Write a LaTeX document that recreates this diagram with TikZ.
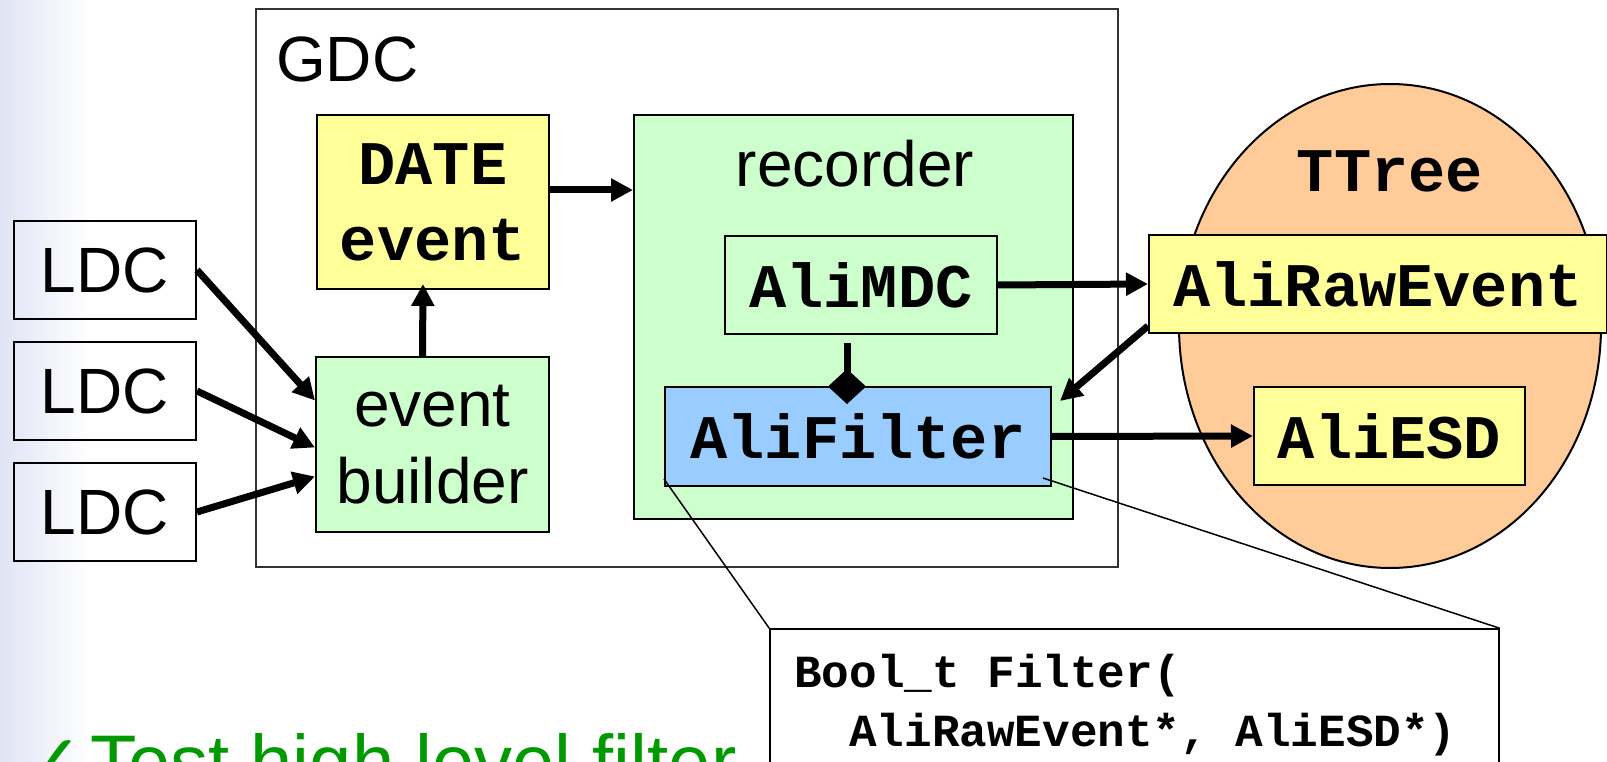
\documentclass[tikz,border=0pt]{standalone}
\usepackage{fontspec}
\setmainfont{Liberation Sans}
\setmonofont{Liberation Mono}
\newfontfamily\symfont{DejaVu Sans}
\usepackage{tikz}
\usetikzlibrary{arrows.meta, positioning, calc, shapes.geometric}

\definecolor{dateyellow}{HTML}{FFFF99}
\definecolor{recgreen}{HTML}{CCFFCC}
\definecolor{filtblue}{HTML}{99CCFF}
\definecolor{treeorange}{HTML}{FFCC99}
\definecolor{checkgreen}{HTML}{009900}
\definecolor{slideedge}{RGB}{224,228,244}

\begin{document}
\begin{tikzpicture}[
  x=1pt, y=-1pt,
  >={Triangle[length=22pt,width=22pt]},
  box/.style={
    draw, line width=2pt, inner sep=0pt, minimum height=98pt
  },
  sanslab/.style={font=\fontsize{64}{77}\selectfont, align=center},
  monolab/.style={
    font=\fontsize{62}{76}\selectfont\ttfamily\bfseries, align=center
  },
  codelab/.style={
    font=\fontsize{46}{59}\selectfont\ttfamily\bfseries,
    anchor=base west, inner sep=0pt
  },
  greenlab/.style={
    font=\fontsize{76}{90}\selectfont, text=checkgreen,
    anchor=base west, inner sep=0pt
  },
  flow/.style={->, line width=7pt},
  lead/.style={line width=1.5pt},
]

%%% Page frame and shaded slide edge
\useasboundingbox (0,0) rectangle (1607,762);
\clip (0,0) rectangle (1607,762);
\shade[left color=slideedge, right color=white] (0,0) rectangle (90,762);

%%% GDC frame
\node[draw=black!80, line width=1.5pt, inner sep=0pt,
      minimum width=862pt, minimum height=558pt] (gdc) at (687,288) {};
\node[sanslab, anchor=base west, inner sep=0pt] (gdclab) at (276,82) {GDC};

%%% LDC boxes
\node[box, sanslab, minimum width=182pt] (ldc1) at (105,270) {LDC};
\node[box, sanslab, minimum width=182pt] (ldc2) at (105,391) {LDC};
\node[box, sanslab, minimum width=182pt] (ldc3) at (105,512) {LDC};

%%% Event building
\node[box, monolab, fill=dateyellow, minimum width=232pt,
      minimum height=174pt] (date) at (433,202) {DATE\\event};
\node[box, sanslab, fill=recgreen, minimum width=233pt,
      minimum height=175pt] (builder) at (432.5,444.5) {event\\builder};

%%% Recorder with AliMDC and AliFilter
\node[box, fill=recgreen, minimum width=439pt,
      minimum height=404pt] (recorder) at (853.5,317) {};
\node[sanslab, anchor=base, inner sep=0pt] (reclab) at (855,187) {recorder};
\node[box, monolab, fill=recgreen, minimum width=272pt] (alimdc) at (861,285) {AliMDC};
\node[box, monolab, fill=filtblue, minimum width=386pt,
      minimum height=99pt] (filter) at (858,436.5) {AliFilter};

%%% TTree
\node[draw, line width=2pt, ellipse, fill=treeorange, inner sep=0pt,
      minimum width=422pt, minimum height=484pt] (ttree) at (1390,326) {};
\node[monolab, anchor=base, inner sep=0pt] (treelab) at (1390,192) {TTree};
\node[box, monolab, fill=dateyellow, minimum width=458pt] (rawevent) at (1378,284) {AliRawEvent};
\node[box, monolab, fill=dateyellow, minimum width=271pt] (esd) at (1389.5,436) {AliESD};

%%% Data flow
\draw[flow] (ldc1.east) -- ([yshift=44pt]builder.west);
\draw[flow] (ldc2.east) -- ([yshift=-3pt]builder.west);
\draw[flow] (ldc3.east) -- ([yshift=-32pt]builder.west);
\draw[flow] ([xshift=-10pt]builder.north) -- ([xshift=-10pt,yshift=6pt]date.south);
\draw[flow] ([yshift=12pt]date.east) -- ([yshift=127pt]recorder.west);
\draw[flow] (alimdc.east) -- (rawevent.west);
\draw[flow] ([yshift=8pt]rawevent.south west) -- ([xshift=8pt,yshift=-15pt]filter.north east);
\draw[flow] (filter.east) -- (esd.west);
\draw[line width=7pt, -{Diamond[length=35pt,width=38pt]}]
  ([xshift=-14pt,yshift=-8pt]alimdc.south) -- ([xshift=-11pt,yshift=-18pt]filter.north);

%%% Callout with the filter signature
\node[draw, line width=1.5pt, fill=white, inner sep=0pt,
      minimum width=729pt, minimum height=200pt] (code) at (1134.5,729) {};
\draw[lead] ([yshift=8pt]filter.south west) -- (code.north west);
\draw[lead] ([xshift=-9pt,yshift=9pt]filter.south east) -- (code.north east);
\node[codelab] (codeone) at (794,687) {Bool\_t Filter(};
\node[codelab] (codetwo) at (849,746) {AliRawEvent*, AliESD*)};

%%% Bullet at the bottom
\node[greenlab] (check) at (20,788) {\symfont ✓};
\node[greenlab] (testlab) at (90,788) {Test high level filter};

\end{tikzpicture}
\end{document}
